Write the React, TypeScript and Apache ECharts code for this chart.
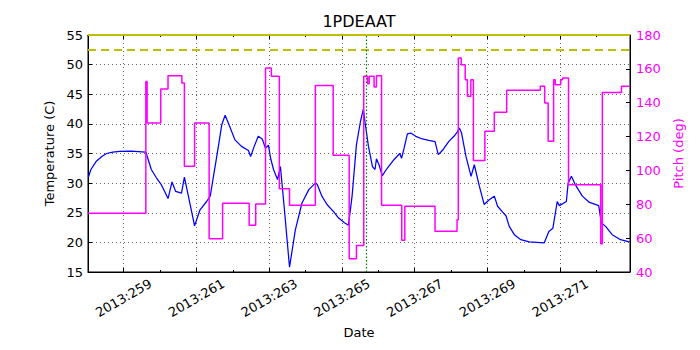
import React, { useEffect, useRef } from "react";
import * as echarts from "echarts";

const TITLE = "1PDEAAT";

// Temperature (C) vs day of year 2013
const tempDays = [258.03, 258.1, 258.25, 258.4, 258.53, 258.7, 258.89, 259.2, 259.61, 259.76, 259.9, 260.04, 260.22, 260.33, 260.43, 260.59, 260.67, 260.78, 260.95, 261.1, 261.28, 261.38, 261.56, 261.7, 261.79, 261.88, 262.06, 262.24, 262.43, 262.49, 262.59, 262.7, 262.81, 262.9, 262.98, 263.04, 263.12, 263.23, 263.31, 263.42, 263.56, 263.72, 263.9, 264.09, 264.27, 264.32, 264.45, 264.59, 264.77, 264.91, 265.07, 265.18, 265.28, 265.4, 265.51, 265.59, 265.64, 265.73, 265.84, 265.91, 265.95, 266.02, 266.11, 266.25, 266.43, 266.59, 266.64, 266.71, 266.8, 266.89, 267.03, 267.21, 267.39, 267.56, 267.65, 267.76, 267.94, 268.08, 268.17, 268.23, 268.29, 268.41, 268.55, 268.64, 268.78, 268.91, 269.05, 269.19, 269.28, 269.42, 269.51, 269.6, 269.74, 269.92, 270.15, 270.56, 270.69, 270.8, 270.92, 270.98, 271.17, 271.22, 271.31, 271.42, 271.61, 271.79, 272.06, 272.13, 272.25, 272.43, 272.66, 272.9];
const tempValues = [31.0, 32.3, 33.7, 34.5, 35.0, 35.25, 35.35, 35.4, 35.25, 32.3, 30.9, 29.7, 27.4, 30.2, 28.6, 28.3, 31.0, 27.8, 22.8, 25.5, 26.9, 27.8, 34.5, 39.9, 41.45, 40.1, 37.3, 36.2, 35.5, 34.5, 36.2, 37.9, 37.45, 35.9, 36.4, 34.2, 32.3, 30.6, 32.8, 25.5, 15.8, 22.1, 26.6, 28.9, 30.0, 29.8, 27.8, 26.4, 25.2, 24.1, 23.3, 22.9, 27.8, 36.5, 40.4, 42.5, 40.1, 36.2, 32.8, 32.3, 34.1, 33.1, 31.25, 32.55, 33.95, 35.0, 34.2, 35.9, 38.3, 38.45, 37.9, 37.45, 37.2, 37.0, 34.8, 35.5, 37.05, 37.9, 38.6, 39.3, 38.45, 34.5, 31.15, 33.1, 29.45, 26.4, 27.2, 27.8, 26.1, 25.1, 24.5, 22.7, 21.3, 20.45, 20.1, 19.9, 21.85, 22.4, 26.9, 26.2, 26.9, 30.0, 31.15, 29.7, 27.8, 26.8, 26.2, 23.3, 22.7, 21.3, 20.45, 20.1];

// Pitch (deg): value holds from each day until the next one
const pitchDays = [258.02, 259.61, 259.645, 260.02, 260.22, 260.6, 260.67, 260.95, 261.35, 261.72, 262.45, 262.63, 262.9, 263.06, 263.28, 263.56, 264.27, 264.76, 265.2, 265.4, 265.6, 265.705, 265.75, 265.885, 265.95, 266.09, 266.645, 266.73, 267.56, 268.165, 268.2, 268.28, 268.39, 268.45, 268.545, 268.615, 268.93, 269.19, 269.53, 270.455, 270.575, 270.67, 270.82, 270.865, 271.015, 271.065, 271.23, 272.115, 272.16, 272.685, 272.92];
const pitchValues = [74.7, 152.6, 128, 148.1, 156, 151.6, 102.4, 128, 59.7, 80.6, 67.6, 80.2, 160.5, 155.6, 89.2, 79.4, 150.1, 108.9, 47.9, 55.6, 155.6, 151.2, 155.6, 149.3, 156, 79.4, 58.7, 78.8, 64.05, 70.9, 166.4, 162.5, 153.6, 143.8, 153.6, 105.8, 123.1, 134.3, 147.3, 149.7, 139.8, 117.2, 153.6, 150.6, 153.6, 154.6, 91.6, 56.7, 146.1, 149.7, 149.7];

const majorDays = [259, 261, 263, 265, 267, 269, 271];
const minorDays = [260, 262, 264, 266, 268, 270, 272];
const X_MIN = 258.02;
const X_MAX = 272.92;
const TEMP_MIN = 15, TEMP_MAX = 55, TEMP_STEP = 5;
const PITCH_MIN = 40, PITCH_MAX = 180, PITCH_STEP = 20;
const TEMP_LIMIT_DASHED = 52.5;
const TEMP_LIMIT_SOLID = 55;
const EVENT_DAY = 265.67;

const FONT = "DejaVu Sans";
const MAGENTA = "#ff00ff";
const dotted = { color: "#222", width: 0.7, type: [1, 3] as number[] };

export default function App() {
  const ref = useRef<HTMLDivElement>(null);
  useEffect(() => {
    document.body.style.margin = "0";
    const chart = echarts.init(ref.current!, null, { renderer: "svg" });
    const baseX = { type: "value", min: X_MIN, max: X_MAX, gridIndex: 0 };
    const option: any = {
      animation: false,
      textStyle: { fontFamily: FONT },
      graphic: [
        {
          type: "text",
          x: 359,
          y: 13,
          style: { text: TITLE, fontSize: 16, fontFamily: FONT, fill: "#000", textAlign: "center", textVerticalAlign: "top" },
        },
      ],
      grid: { left: 88, right: 70, top: 35, bottom: 78, show: true, borderColor: "#000", borderWidth: 1, backgroundColor: "#fff", containLabel: false, outerBoundsMode: "none" },
      xAxis: [
        {
          ...baseX,
          position: "bottom",
          axisLine: { show: true, onZero: false, lineStyle: { color: "#000", width: 1 } },
          axisTick: { show: true, inside: true, length: 4, customValues: majorDays, lineStyle: { color: "#000" } },
          axisLabel: {
            customValues: majorDays,
            formatter: (v: number) => "2013:" + v,
            rotate: 30,
            align: "center",
            verticalAlign: "middle",
            margin: 26,
            color: "#000",
            fontSize: 13,
            fontFamily: FONT,
          },
          splitLine: { show: true, lineStyle: dotted },
          name: "Date",
          nameLocation: "middle",
          nameGap: 53,
          nameTextStyle: { color: "#000", fontSize: 13, fontFamily: FONT },
        },
        {
          ...baseX,
          position: "bottom",
          axisLine: { show: false, onZero: false },
          axisTick: { show: true, inside: true, length: 2, customValues: minorDays, lineStyle: { color: "#000" } },
          axisLabel: { show: false },
          splitLine: { show: false },
        },
        {
          ...baseX,
          position: "top",
          axisLine: { show: true, onZero: false, lineStyle: { color: "#000" } },
          axisTick: { show: true, inside: true, length: 4, customValues: majorDays, lineStyle: { color: "#000" } },
          axisLabel: { show: false },
          splitLine: { show: false },
        },
        {
          ...baseX,
          position: "top",
          axisLine: { show: false, onZero: false },
          axisTick: { show: true, inside: true, length: 2, customValues: minorDays, lineStyle: { color: "#000" } },
          axisLabel: { show: false },
          splitLine: { show: false },
        },
      ],
      yAxis: [
        {
          type: "value",
          position: "left",
          min: TEMP_MIN,
          max: TEMP_MAX,
          interval: TEMP_STEP,
          axisLine: { show: true, onZero: false, lineStyle: { color: "#000" } },
          axisTick: { show: true, inside: true, length: 4, lineStyle: { color: "#000" } },
          axisLabel: { color: "#000", fontSize: 13, margin: 5, fontFamily: FONT },
          splitLine: { show: true, lineStyle: dotted },
          name: "Temperature (C)",
          nameLocation: "middle",
          nameGap: 30,
          nameTextStyle: { color: "#000", fontSize: 13, fontFamily: FONT },
        },
        {
          type: "value",
          position: "right",
          min: PITCH_MIN,
          max: PITCH_MAX,
          interval: PITCH_STEP,
          axisLine: { show: true, onZero: false, lineStyle: { color: "#000" } },
          axisTick: { show: true, inside: true, length: 4, lineStyle: { color: "#000" } },
          axisLabel: { color: MAGENTA, fontSize: 13, margin: 6, fontFamily: FONT },
          splitLine: { show: false },
          name: "Pitch (deg)",
          nameLocation: "middle",
          nameGap: 33,
          nameTextStyle: { color: MAGENTA, fontSize: 13, fontFamily: FONT },
        },
      ],
      series: [
        {
          type: "line",
          name: "Temperature",
          xAxisIndex: 0,
          yAxisIndex: 0,
          data: tempDays.map((d, i) => [d, tempValues[i]]),
          symbol: "none",
          showSymbol: false,
          lineStyle: { color: "#0000ff", width: 1.25 },
          z: 3,
          markLine: {
            silent: true,
            symbol: ["none", "none"],
            label: { show: false },
            data: [
              { yAxis: TEMP_LIMIT_DASHED, lineStyle: { color: "#bfbf00", width: 2, type: [8, 5] } },
              { yAxis: TEMP_LIMIT_SOLID, lineStyle: { color: "#bfbf00", width: 2, type: "solid" } },
              { xAxis: EVENT_DAY, lineStyle: { color: "#008000", width: 1.2, type: [1.5, 2] } },
            ],
          },
        },
        {
          type: "line",
          name: "Pitch",
          xAxisIndex: 0,
          yAxisIndex: 1,
          step: "end",
          data: pitchDays.map((d, i) => [d, pitchValues[i]]),
          symbol: "none",
          showSymbol: false,
          lineStyle: { color: MAGENTA, width: 1.5 },
          z: 4,
        },
      ],
    };
    chart.setOption(option);
    return () => chart.dispose();
  }, []);
  return <div ref={ref} style={{ position: "absolute", left: 0, top: 0, width: 700, height: 350 }} />;
}
